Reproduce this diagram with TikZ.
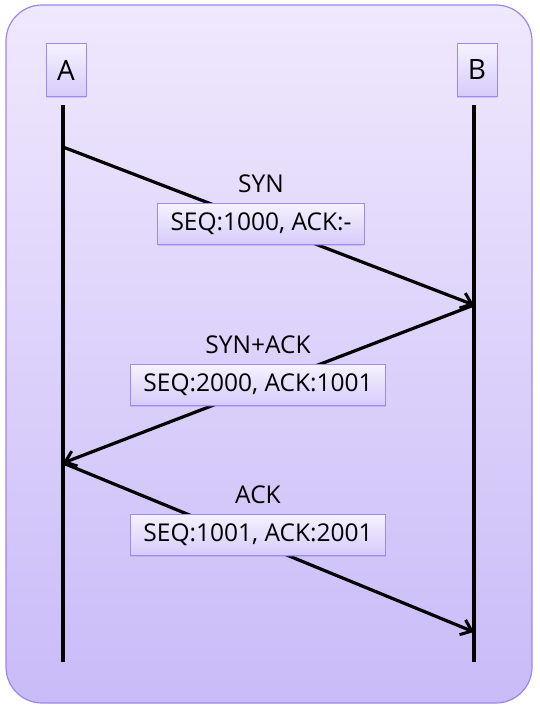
\documentclass[tikz,border=0pt]{standalone}
\usepackage{fontspec}
\setmainfont{Open Sans}
\usetikzlibrary{arrows.meta,positioning,shadows}
\definecolor{paneltop}{HTML}{F0E8FD}
\definecolor{panelbot}{HTML}{C9BBF8}
\definecolor{panelrule}{HTML}{9D86EC}
\definecolor{boxtop}{HTML}{F6F2FF}
\definecolor{boxbot}{HTML}{D6CBFA}
\definecolor{boxrule}{HTML}{9C8AF0}

\begin{document}
\begin{tikzpicture}[x=1pt,y=-1pt,
 actor/.style={draw=boxrule,top color=boxtop,bottom color=boxbot,
   minimum width=40pt,minimum height=53pt,inner sep=0pt,
   font=\fontsize{28}{30}\selectfont,
   drop shadow={shadow xshift=0pt,shadow yshift=-1pt,opacity=.35,fill=boxrule}},
 field/.style={draw=boxrule,top color=boxtop,bottom color=boxbot,
   minimum height=41pt,inner xsep=13pt,inner ysep=0pt,
   font=\fontsize{24.5}{27}\selectfont,
   drop shadow={shadow xshift=0pt,shadow yshift=-1.5pt,opacity=.35,fill=boxrule}},
 msg/.style={font=\fontsize{24.5}{27}\selectfont,inner sep=0pt},
 life/.style={line width=3.2pt},
 arr/.style={-{Straight Barb[length=10pt,width=16pt,line width=3pt]},line width=3.2pt},
 node distance=10pt]
 \useasboundingbox (0,0) rectangle (539,710);
 \draw[draw=panelrule,line width=1.2pt,top color=paneltop,bottom color=panelbot,
   rounded corners=36pt] (6,5) rectangle (532,703);
 % actors and lifelines
 \node[actor] (a) at (66,70) {A};
 \node[actor] (b) at (477,70) {B};
 \coordinate (atop) at (63,105);
 \coordinate (btop) at (474,105);
 \coordinate (abot) at (63,662);
 \coordinate (bbot) at (474,662);
 \draw[life] (atop)--(abot);
 \draw[life] (btop)--(bbot);
 % message end points
 \coordinate (a1) at (63,147);
 \coordinate (b1) at (474,305);
 \coordinate (a2) at (63,463);
 \coordinate (b2) at (474,632);
 \draw[arr] (a1)--(b1);
 \draw[arr] (b1)--(a2);
 \draw[arr] (a2)--(b2);
 % labels
 \node[field] (syn) at (261,224) {SEQ:1000, ACK:-};
 \node[msg,above=10pt of syn] (synname) {SYN};
 \node[field] (synack) at (258,385) {SEQ:2000, ACK:1001};
 \node[msg,above=10pt of synack] (synackname) {SYN+ACK};
 \node[field] (ack) at (258,535) {SEQ:1001, ACK:2001};
 \node[msg,above=10pt of ack] (ackname) {ACK};
\end{tikzpicture}
\end{document}
